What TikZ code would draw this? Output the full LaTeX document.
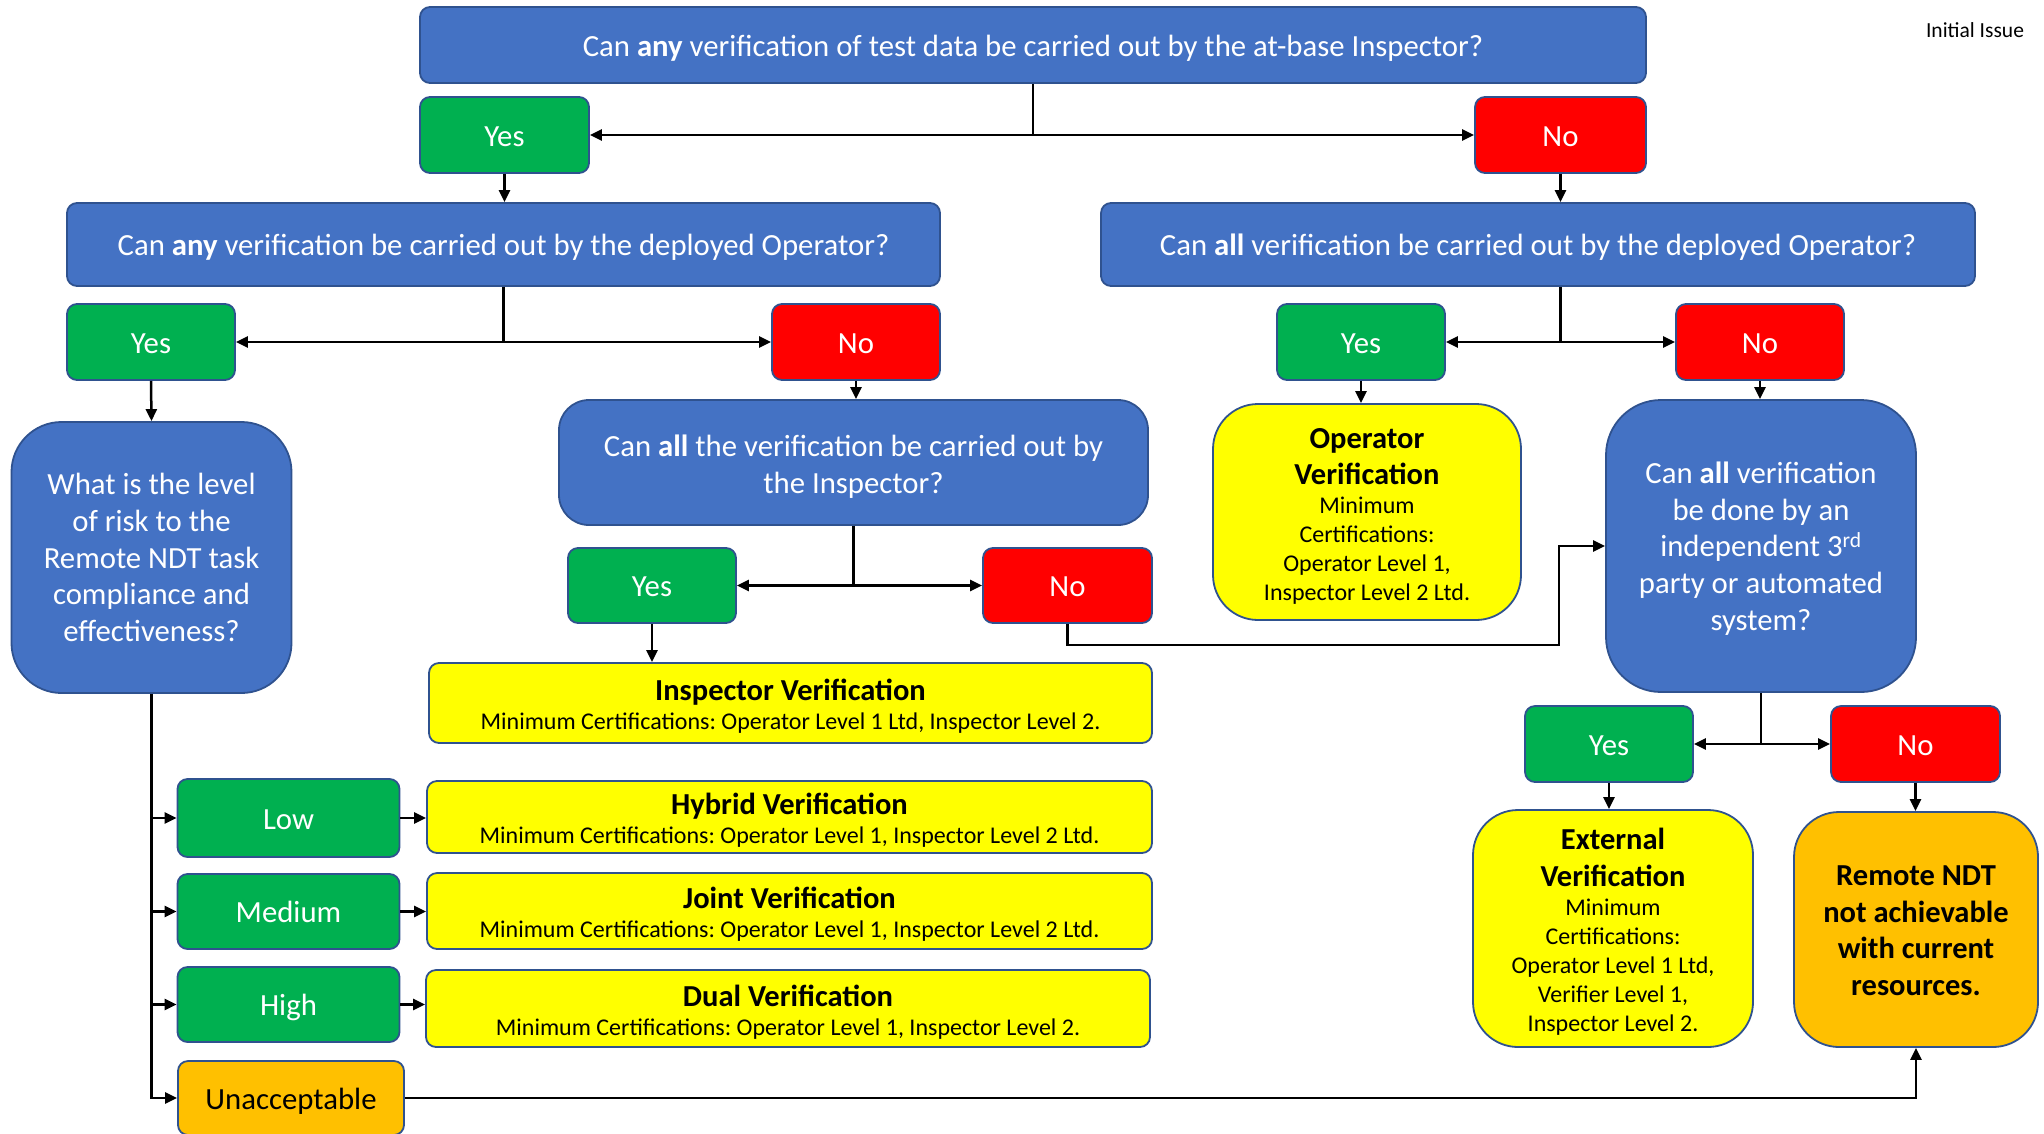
\documentclass[tikz,border=0pt]{standalone}
\usepackage{fontspec}
\setmainfont{Carlito}
\usetikzlibrary{arrows.meta}
\definecolor{cblue}{HTML}{4472C4}
\definecolor{cgreen}{HTML}{00B050}
\definecolor{cred}{HTML}{FF0000}
\definecolor{cyel}{HTML}{FFFF00}
\definecolor{corange}{HTML}{FFC000}
\definecolor{cbord}{HTML}{2F528F}
\newcommand\qfont{\fontsize{30.75pt}{36.75pt}\selectfont\frenchspacing}
\newcommand\bfont{\fontsize{30.5pt}{36.5pt}\selectfont\bfseries\frenchspacing}
\newcommand\subfont{\fontsize{24pt}{29pt}\selectfont\frenchspacing}
\newcommand\dn[1]{\par\vspace*{#1}\prevdepth=-1000pt\noindent}
\tikzset{
  base/.style={draw=cbord, line width=1.8pt, rounded corners=10pt, inner sep=0pt, align=flush center, font=\qfont},
  oneline/.style={text height=24pt, text depth=2pt},
  qbox/.style={base, fill=cblue, text=white},
  yesbox/.style={base, oneline, fill=cgreen, text=white},
  nobox/.style={base, oneline, fill=cred, text=white},
  resbox/.style={base, fill=cyel, text=black},
  orbox/.style={base, fill=corange, text=black},
  wire/.style={line width=2.5pt},
  conn/.style={line width=2.5pt, -{Triangle[length=12pt,width=11pt]}}
}
\begin{document}
\begin{tikzpicture}[x=1pt,y=-1pt]
\useasboundingbox (0,0) rectangle (2044,1133);
\clip (0,0) rectangle (2044,1133);

\node[font=\fontsize{21.5pt}{25pt}\selectfont] (ii) at (1975,30) {Initial Issue};

\node[qbox, oneline, minimum width=1226pt, minimum height=76pt] (top) at (1033,45) {Can \textbf{any} verification of test data be carried out by the at-base Inspector?};
\node[yesbox, minimum width=169pt, minimum height=76pt] (yes1) at (504.5,135) {Yes};
\node[nobox, minimum width=171pt, minimum height=76pt] (no1) at (1560.5,135) {No};

\node[qbox, oneline, minimum width=873pt, minimum height=83pt] (q2) at (503.5,244.5) {Can \textbf{any} verification be carried out by the deployed Operator?};
\node[qbox, oneline, minimum width=874pt, minimum height=83pt] (q3) at (1538,244.5) {Can \textbf{all} verification be carried out by the deployed Operator?};

\node[yesbox, minimum width=168pt, minimum height=76pt] (yes2) at (151,342) {Yes};
\node[nobox, minimum width=168pt, minimum height=76pt] (no2) at (856,342) {No};
\node[yesbox, minimum width=168pt, minimum height=76pt] (yes4) at (1361,342) {Yes};
\node[nobox, minimum width=168pt, minimum height=76pt] (no4) at (1760,342) {No};

\node[qbox, rounded corners=50pt, minimum width=280pt, minimum height=271pt, text width=265pt] (risk) at (151.5,557.5) {What is the level\\ of risk to the\\ Remote NDT task\\ compliance and\\ effectiveness?};

\node[qbox, rounded corners=30pt, minimum width=589pt, minimum height=125pt, text width=575pt] (q4) at (853.5,462.5) {\dn{8pt}Can \textbf{all} the verification be carried out by\\ the Inspector?};

\node[yesbox, minimum width=168pt, minimum height=75pt] (yes3) at (652,585.5) {Yes};
\node[nobox, minimum width=169pt, minimum height=75pt] (no3) at (1067.5,585.5) {No};

\node[resbox, minimum width=723pt, minimum height=80pt, text width=710pt] (insp) at (790.5,703) {\dn{6.5pt}{\bfont Inspector Verification\par}{\subfont Minimum Certifications: Operator Level 1 Ltd, Inspector Level 2.\par}};

\node[resbox, rounded corners=45pt, minimum width=308pt, minimum height=216pt, text width=295pt] (opver) at (1367,512) {\dn{9pt}{\bfont Operator\\ Verification\par}{\subfont Minimum\\ Certifications:\\ Operator Level 1,\\ Inspector Level 2 Ltd.\par}};

\node[qbox, rounded corners=55pt, minimum width=310pt, minimum height=292pt, text width=295pt] (q5) at (1761,546) {\dn{5pt}Can \textbf{all} verification\\ be done by an\\ independent 3\textsuperscript{rd}\\ party or automated\\ system?};

\node[yesbox, minimum width=168pt, minimum height=76pt] (yes5) at (1609,744) {Yes};
\node[nobox, minimum width=169pt, minimum height=76pt] (no5) at (1915.5,744) {No};

\node[resbox, rounded corners=45pt, minimum width=280pt, minimum height=237pt, text width=270pt] (ext) at (1613,928.5) {\dn{6.5pt}{\bfont External\\ Verification\par}{\subfont Minimum\\ Certifications:\\ Operator Level 1 Ltd,\\ Verifier Level 1,\\ Inspector Level 2.\par}};
\node[orbox, rounded corners=45pt, minimum width=244pt, minimum height=235pt, text width=240pt, font=\bfont] (remote) at (1916,929.5) {\dn{2.6pt}Remote NDT\\ not achievable\\ with current\\ resources.};

\node[yesbox, minimum width=222pt, minimum height=78pt] (low) at (288.5,818) {Low};
\node[yesbox, minimum width=222pt, minimum height=75pt] (medium) at (288.5,911.5) {Medium};
\node[yesbox, minimum width=222pt, minimum height=75pt] (high) at (288.5,1004.5) {High};
\node[orbox, oneline, minimum width=226pt, minimum height=74pt] (unacc) at (291,1098) {Unacceptable};

\node[resbox, minimum width=725pt, minimum height=72pt, text width=710pt] (hybrid) at (789.5,817) {\dn{6.5pt}{\bfont Hybrid Verification\par}{\subfont Minimum Certifications: Operator Level 1, Inspector Level 2 Ltd.\par}};
\node[resbox, minimum width=725pt, minimum height=76pt, text width=710pt] (joint) at (789.5,911) {\dn{6.5pt}{\bfont Joint Verification\par}{\subfont Minimum Certifications: Operator Level 1, Inspector Level 2 Ltd.\par}};
\node[resbox, minimum width=724pt, minimum height=77pt, text width=710pt] (dual) at (788,1008.5) {\dn{6.5pt}{\bfont Dual Verification\par}{\subfont Minimum Certifications: Operator Level 1, Inspector Level 2.\par}};

% connectors
\coordinate (j1) at (top.south |- yes1.east);
\draw[wire] (top.south) -- (j1);
\draw[conn] (j1) -- (yes1.east);
\draw[conn] (j1) -- (no1.west);
\draw[conn] (yes1.south) -- (yes1.south |- q2.north);
\draw[conn] (no1.south) -- (no1.south |- q3.north);

\coordinate (j2) at (q2.south |- yes2.east);
\draw[wire] (q2.south) -- (j2);
\draw[conn] (j2) -- (yes2.east);
\draw[conn] (j2) -- (no2.west);

\coordinate (j3) at (no1.south |- yes4.east);
\draw[wire] (no1.south |- q3.south) -- (j3);
\draw[conn] (j3) -- (yes4.east);
\draw[conn] (j3) -- (no4.west);

\draw[conn] (yes2.south) -- (risk.north);
\draw[conn] (no2.south) -- (no2.south |- q4.north);
\draw[conn] (yes4.south) -- (yes4.south |- opver.north);
\draw[conn] (no4.south) -- (no4.south |- q5.north);

\coordinate (j4) at (q4.south |- yes3.east);
\draw[wire] (q4.south) -- (j4);
\draw[conn] (j4) -- (yes3.east);
\draw[conn] (j4) -- (no3.west);
\draw[conn] (yes3.south) -- (yes3.south |- insp.north);

\coordinate (bend) at (1559,645);
\draw[conn] (no3.south) |- (bend) |- (q5.west);

\coordinate (j5) at (q5.south |- yes5.east);
\draw[wire] (q5.south) -- (j5);
\draw[conn] (j5) -- (yes5.east);
\draw[conn] (j5) -- (no5.west);
\draw[conn] (yes5.south) -- (yes5.south |- ext.north);
\draw[conn] (no5.south) -- (no5.south |- remote.north);

\draw[conn] (risk.south) |- (unacc.west);
\draw[conn] (risk.south |- low.west) -- (low.west);
\draw[conn] (risk.south |- medium.west) -- (medium.west);
\draw[conn] (risk.south |- high.west) -- (high.west);

\draw[conn] (low.east) -- (low.east -| hybrid.west);
\draw[conn] (medium.east) -- (medium.east -| joint.west);
\draw[conn] (high.east) -- (high.east -| dual.west);
\draw[conn] (unacc.east) -| (remote.south);
\end{tikzpicture}
\end{document}
